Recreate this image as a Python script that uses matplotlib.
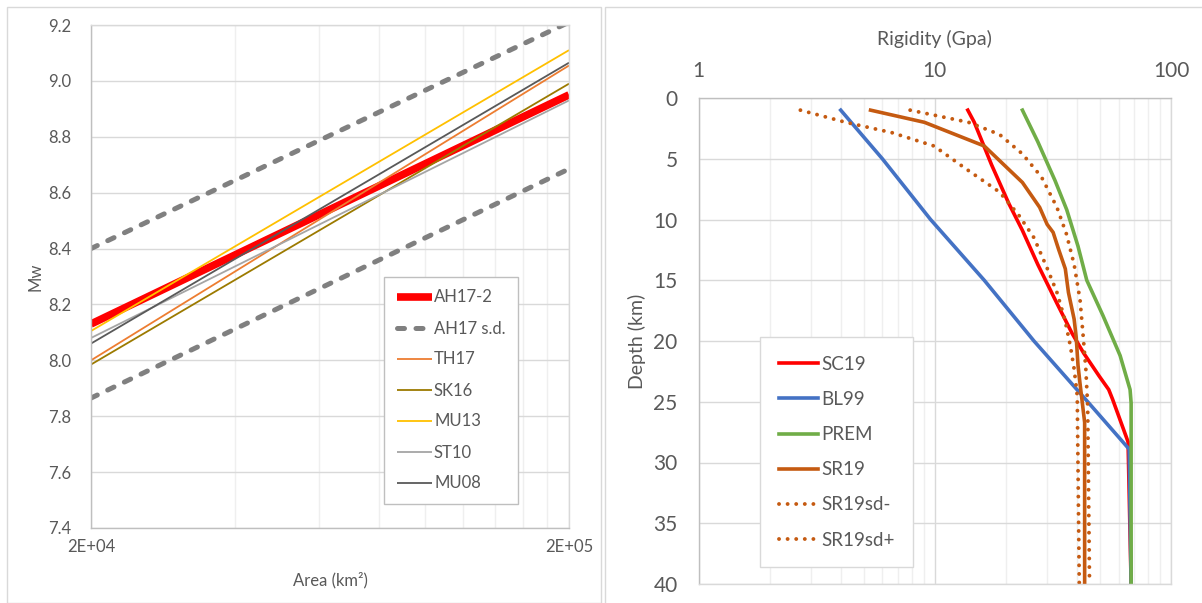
import numpy as np
import matplotlib
matplotlib.use("Agg")
from matplotlib import pyplot as plt
from matplotlib.patches import Rectangle
from matplotlib.ticker import FixedLocator, NullFormatter

plt.rcParams['font.family'] = ['Lato', 'DejaVu Sans']

TXT = '#595959'
GRID = '#D9D9D9'
MINOR = '#EFEFEF'
AXIS = '#BFBFBF'

# scaling relations Mw vs rupture area (values at 2E+04 and 2E+05 km2)
area = [2e4, 2e5]
mw_lines = {
    'AH17-2': [8.13, 8.95],
    'AH17 s.d.': [8.40, 9.21],
    'TH17': [8.00, 9.055],
    'SK16': [7.985, 8.99],
    'MU13': [8.105, 9.11],
    'ST10': [8.08, 8.93],
    'MU08': [8.06, 9.065],
}
ah17_sd_lower = [7.865, 8.685]

# rigidity profiles (GPa) vs depth (km)
sc19_depth = [1, 2, 5.5, 8.7, 10.9, 13.7, 16.9, 19.4, 21, 22.9, 24, 24.8, 28.3, 40]
sc19_mu = [13.8, 14.7, 17.4, 20.6, 23.5, 27.3, 32.9, 38.2, 42.7, 49.7, 54.5, 56.6, 65.8, 67.8]

bl99_depth = [1, 5, 10, 15, 20, 25, 28.9, 40]
bl99_mu = [4.0, 6.0, 9.6, 16.2, 26.3, 44.4, 66.5, 67.8]

prem_depth = [1, 3.6, 6.8, 9.2, 12.2, 15, 17.9, 21.2, 24, 25.1, 40]
prem_mu = [23.5, 27.3, 32.3, 36.2, 40.4, 44.0, 51.5, 60.9, 67.1, 67.8, 67.8]

sr19_depth = [1, 2, 3.95, 6.95, 9.0, 10.4, 11.06, 12.5, 14.06, 16, 18.2, 19.7, 22, 23.5, 26.7, 40]
sr19_mu = [5.35, 9.04, 16.2, 23.5, 27.8, 29.9, 31.7, 33.5, 35.7, 36.8, 38.9, 39.7, 40.4, 41.2, 43.1, 43.1]

sr19m_depth = [1, 2, 2.85, 3.95, 5.85, 7.74, 9.6, 11.5, 14, 16, 18.2, 20.4, 22.3, 24.5, 40]
sr19m_mu = [2.7, 4.2, 6.58, 9.93, 13.6, 18.8, 22.6, 26.3, 29.9, 32.9, 35.5, 37.5, 38.9, 40.1, 40.9]

sr19p_depth = [1, 2, 3, 4.6, 6.5, 9, 11.2, 13.7, 16.6, 19.4, 22.3, 25.4, 40]
sr19p_mu = [7.87, 13.9, 18.8, 23.5, 28.3, 32.9, 36.1, 38.9, 41.2, 42.4, 43.6, 44.4, 45.2]

W, H = 1202, 603
fig = plt.figure(figsize=(W / 100, H / 100), dpi=100)

# chart area frames
fig.patches.append(Rectangle((7 / W, 0), 594 / W, 1 - 7 / H, transform=fig.transFigure,
                             fill=False, edgecolor=GRID, lw=1))
fig.patches.append(Rectangle((605 / W, -0.01), 600 / W, 1 - 7 / H + 0.01, transform=fig.transFigure,
                             fill=False, edgecolor=GRID, lw=1))


def style_axes(ax, dark_sides):
    for side, s in ax.spines.items():
        s.set_color(AXIS if side in dark_sides else GRID)
        s.set_linewidth(1)
    ax.tick_params(which='both', length=0, colors=TXT)
    ax.grid(True, which='major', color=GRID, lw=1)
    ax.grid(True, which='minor', axis='x', color=MINOR, lw=1)
    ax.set_axisbelow(True)


# ---- left: Mw vs area
ax1 = fig.add_axes([91 / W, 1 - 528 / H, 478 / W, 503 / H])
style_axes(ax1, ('left', 'bottom'))
ax1.set_xscale('log')
ax1.set_xlim(2e4, 2e5)
ax1.set_ylim(7.4, 9.2)
ax1.xaxis.set_major_locator(FixedLocator([2e4, 2e5]))
ax1.xaxis.set_minor_locator(FixedLocator([2e4 * k for k in range(2, 10)]))
ax1.xaxis.set_minor_formatter(NullFormatter())
ax1.set_xticklabels(['2E+04', '2E+05'])
yt = np.arange(7.4, 9.21, 0.2)
ax1.set_yticks(yt)
ax1.set_yticklabels([f'{v:.1f}' for v in yt])
ax1.tick_params(labelsize=12)
ax1.tick_params(axis='x', pad=8)
ax1.tick_params(axis='y', pad=14)

sd_dash = (0, (1.4, 2.3))
styles = {
    'AH17-2': dict(color='#FF0000', lw=5.5),
    'AH17 s.d.': dict(color='#808080', lw=3.6, ls=sd_dash, dash_capstyle='round'),
    'TH17': dict(color='#ED7D31', lw=1.3),
    'SK16': dict(color='#9C7A00', lw=1.3),
    'MU13': dict(color='#FFC000', lw=1.3),
    'ST10': dict(color='#A5A5A5', lw=1.3),
    'MU08': dict(color='#595959', lw=1.3),
}
for name, vals in mw_lines.items():
    ax1.plot(area, vals, label=name, solid_capstyle='butt', **styles[name])
    if name == 'AH17 s.d.':
        ax1.plot(area, ah17_sd_lower, **styles[name])

ax1.set_ylabel('Mw', color=TXT, fontsize=12)
ax1.yaxis.set_label_coords(-0.100, 0.5)
ax1.set_xlabel('Area (km²)', color=TXT, fontsize=12, labelpad=12)
leg1 = ax1.legend(loc='upper left', bbox_to_anchor=(384 / W, 1 - 277 / H),
                  bbox_transform=fig.transFigure, fontsize=12, labelcolor=TXT,
                  frameon=True, fancybox=False, edgecolor=AXIS, framealpha=1,
                  handlelength=2.1, handletextpad=0.15, labelspacing=0.9,
                  borderpad=0.75, borderaxespad=0)
leg1.get_frame().set_linewidth(1)

# ---- right: rigidity vs depth
ax2 = fig.add_axes([698.5 / W, 1 - 584 / H, 472.5 / W, 486 / H])
style_axes(ax2, ('left', 'top'))
ax2.set_xscale('log')
ax2.set_xlim(1, 100)
ax2.set_ylim(40, 0)
ax2.xaxis.set_major_locator(FixedLocator([1, 10, 100]))
ax2.xaxis.set_minor_locator(FixedLocator([m * d for d in (1, 10) for m in range(2, 10)]))
ax2.xaxis.set_minor_formatter(NullFormatter())
ax2.set_xticklabels(['1', '10', '100'])
ax2.set_yticks(range(0, 41, 5))
ax2.xaxis.tick_top()
ax2.xaxis.set_label_position('top')
ax2.tick_params(labelsize=15)
ax2.tick_params(axis='x', pad=12)
ax2.tick_params(axis='y', pad=15)

brown = '#C55A11'
dots = dict(ls=(0, (0.01, 2.2)), dash_capstyle='round')
ax2.plot(sc19_mu, sc19_depth, color='#FF0000', lw=2.6, label='SC19')
ax2.plot(bl99_mu, bl99_depth, color='#4472C4', lw=2.6, label='BL99')
ax2.plot(prem_mu, prem_depth, color='#70AD47', lw=2.6, label='PREM')
ax2.plot(sr19_mu, sr19_depth, color=brown, lw=2.6, label='SR19')
ax2.plot(sr19m_mu, sr19m_depth, color=brown, lw=2.8, label='SR19sd-', **dots)
ax2.plot(sr19p_mu, sr19p_depth, color=brown, lw=2.8, label='SR19sd+', **dots)

ax2.set_xlabel('Rigidity (Gpa)', color=TXT, fontsize=14, labelpad=12)
ax2.set_ylabel('Depth (km)', color=TXT, fontsize=14)
ax2.yaxis.set_label_coords(-0.111, 0.5)
leg2 = ax2.legend(loc='upper left', bbox_to_anchor=(760 / W, 1 - 337 / H),
                  bbox_transform=fig.transFigure, fontsize=13.5, labelcolor=TXT,
                  frameon=True, fancybox=False, edgecolor=GRID, framealpha=1,
                  handlelength=2.1, handletextpad=0.15, labelspacing=0.97,
                  borderpad=1.0, borderaxespad=0)
leg2.get_frame().set_linewidth(1)

fig.savefig('out.png', dpi=100)
